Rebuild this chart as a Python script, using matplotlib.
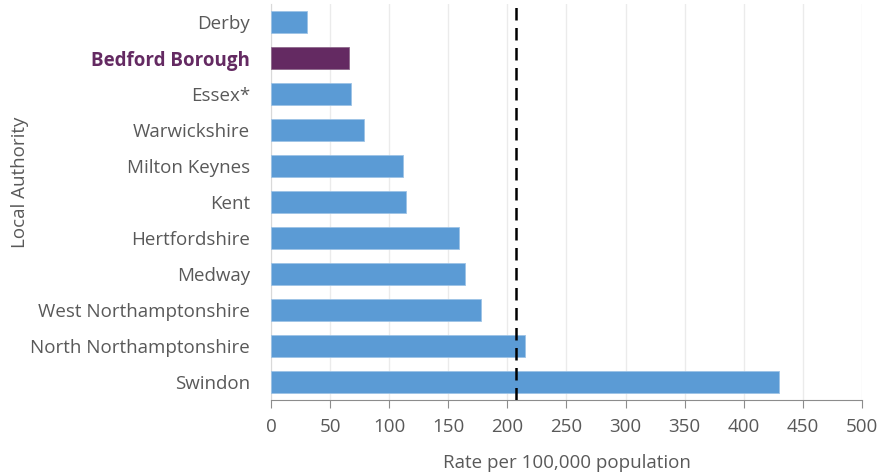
import matplotlib.pyplot as plt
import numpy as np

# Rates per 100,000 population by local authority (top to bottom)
authorities = ["Derby", "Bedford Borough", "Essex*", "Warwickshire", "Milton Keynes",
               "Kent", "Hertfordshire", "Medway", "West Northamptonshire",
               "North Northamptonshire", "Swindon"]
rates = [30, 66, 67.5, 79, 112, 114, 159, 164, 178, 215, 430]
average_rate = 207
highlight = "Bedford Borough"

blue = "#5B9BD5"
purple = "#642A62"
grey_text = "#595959"

plt.rcParams['font.family'] = ['Open Sans', 'DejaVu Sans']

fig = plt.figure(figsize=(8.83, 4.73), dpi=100)
ax = fig.add_axes([0.307, 0.154, 0.669, 0.8375])

y = np.arange(len(authorities))
colors = [purple if a == highlight else blue for a in authorities]
ax.barh(y, rates, height=0.6, color=colors, edgecolor="#9DC3E6", linewidth=0.6, zorder=3)
for bar, a in zip(ax.patches, authorities):
    if a == highlight:
        bar.set_edgecolor("#8E6A8C")

ax.axvline(average_rate, color="black", linestyle=(0, (5, 3)), linewidth=1.8, zorder=4)

ax.set_ylim(len(authorities) - 0.5, -0.5)
ax.set_xlim(0, 500)
ax.set_xticks(np.arange(0, 501, 50))
ax.set_yticks(y)
ax.set_yticklabels(authorities)
ax.grid(axis="x", color="#EBEBEB", linewidth=1, zorder=0)

for spine in ["top", "right"]:
    ax.spines[spine].set_visible(False)
ax.spines["left"].set_color("#D9D9D9")
ax.spines["bottom"].set_color("#8C8C8C")
ax.tick_params(axis="x", colors="#8C8C8C", labelcolor=grey_text, labelsize=13.5,
               length=6, direction="out", pad=7)
ax.tick_params(axis="y", length=0, labelcolor=grey_text, labelsize=13.5, pad=15)

for lbl in ax.get_yticklabels():
    if lbl.get_text() == highlight:
        lbl.set_color(purple)
        lbl.set_fontweight("bold")

ax.set_xlabel("Rate per 100,000 population", color=grey_text, fontsize=13.5)
ax.set_ylabel("Local Authority", color=grey_text, fontsize=13.5)
ax.yaxis.set_label_coords(-0.41, 0.55)
ax.xaxis.set_label_coords(0.5, -0.135)

fig.savefig("out.png", dpi=100, facecolor="white")
